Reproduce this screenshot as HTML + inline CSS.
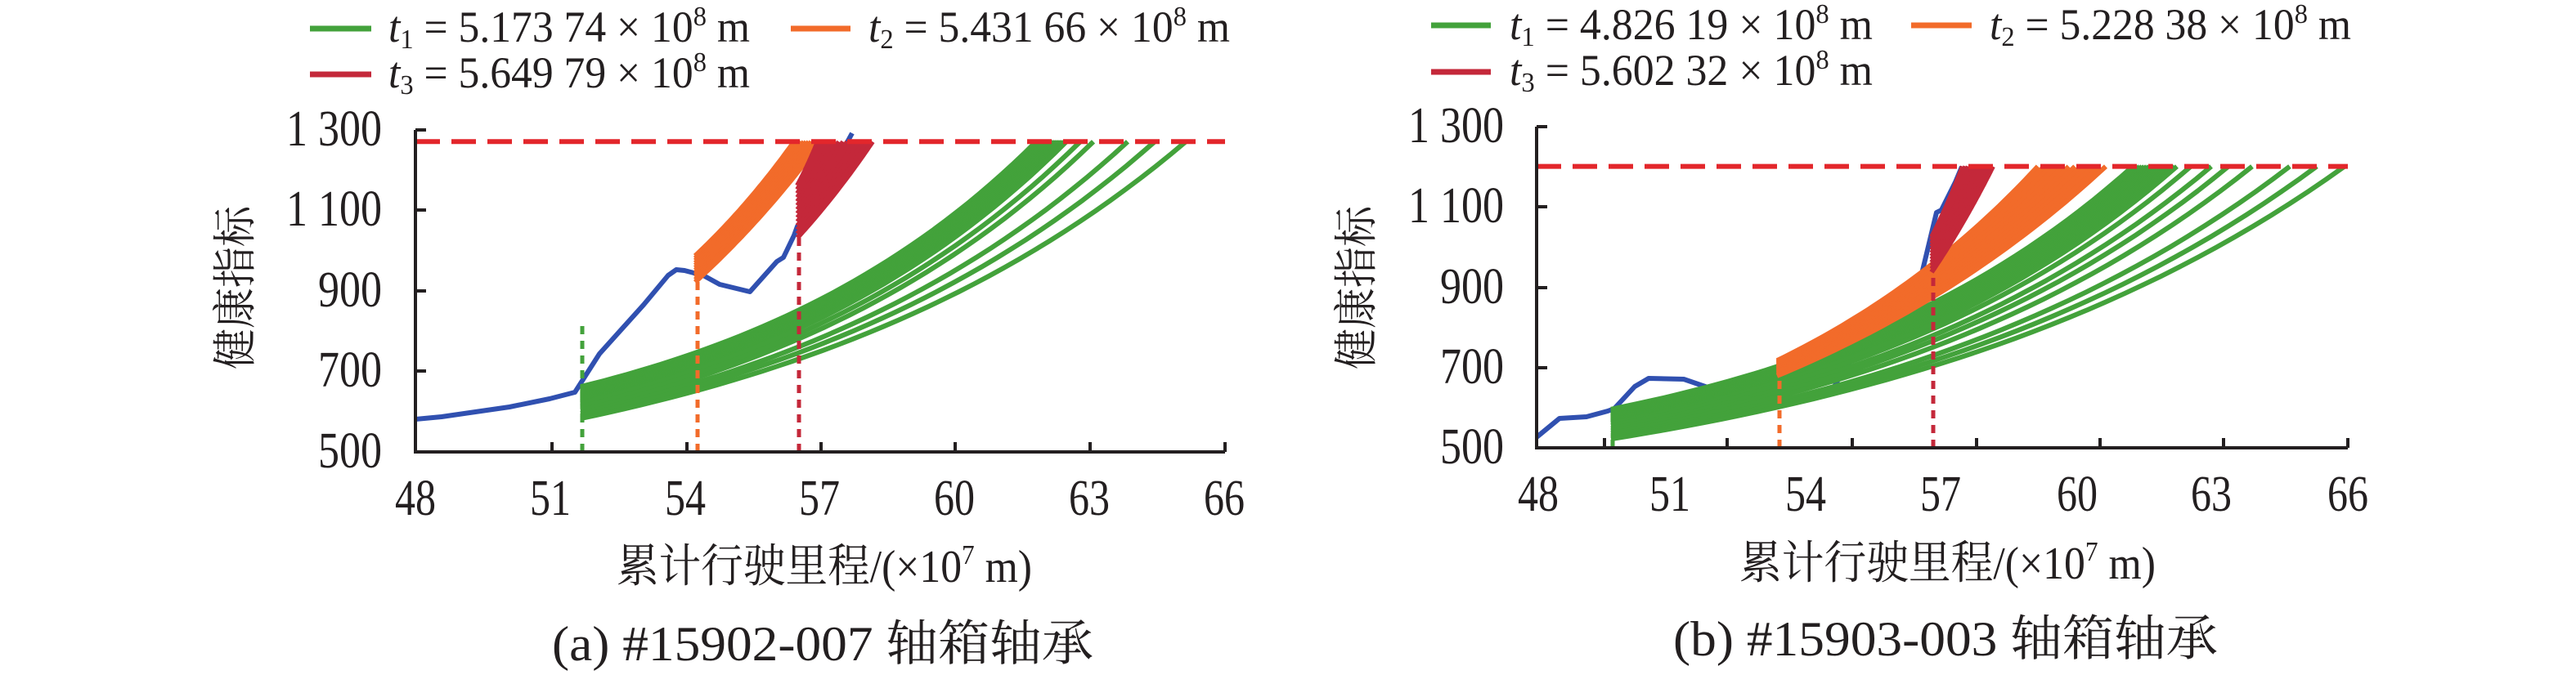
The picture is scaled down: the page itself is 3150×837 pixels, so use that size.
<!DOCTYPE html>
<html><head><meta charset="utf-8"><style>
html,body{margin:0;padding:0;background:#fff;}
svg{display:block;}
text{font-family:"Liberation Serif","Noto Serif CJK SC","Noto Sans CJK SC",serif;fill:#231f20;}
</style></head><body>
<svg id="s" width="3150" height="837" viewBox="0 0 3150 837" xmlns="http://www.w3.org/2000/svg">
<g id="g"></g>
<!-- legends (a) -->
<line x1="379" y1="35" x2="454" y2="35" stroke="#43a23b" stroke-width="7"/>
<text x="475" y="51" font-size="54" textLength="442" lengthAdjust="spacingAndGlyphs"><tspan font-style="italic">t</tspan><tspan font-size="34" dy="8">1</tspan><tspan dy="-8"> = 5.173 74 × 10</tspan><tspan font-size="34" dy="-20">8</tspan><tspan dy="20"> m</tspan></text>
<line x1="967" y1="35" x2="1040" y2="35" stroke="#f26b2a" stroke-width="7"/>
<text x="1062" y="51" font-size="54" textLength="442" lengthAdjust="spacingAndGlyphs"><tspan font-style="italic">t</tspan><tspan font-size="34" dy="8">2</tspan><tspan dy="-8"> = 5.431 66 × 10</tspan><tspan font-size="34" dy="-20">8</tspan><tspan dy="20"> m</tspan></text>
<line x1="379" y1="91" x2="454" y2="91" stroke="#c4283a" stroke-width="7"/>
<text x="475" y="107" font-size="54" textLength="442" lengthAdjust="spacingAndGlyphs"><tspan font-style="italic">t</tspan><tspan font-size="34" dy="8">3</tspan><tspan dy="-8"> = 5.649 79 × 10</tspan><tspan font-size="34" dy="-20">8</tspan><tspan dy="20"> m</tspan></text>
<!-- legends (b) -->
<line x1="1750" y1="31" x2="1823" y2="31" stroke="#43a23b" stroke-width="7"/>
<text x="1846" y="48" font-size="54" textLength="444" lengthAdjust="spacingAndGlyphs"><tspan font-style="italic">t</tspan><tspan font-size="34" dy="8">1</tspan><tspan dy="-8"> = 4.826 19 × 10</tspan><tspan font-size="34" dy="-20">8</tspan><tspan dy="20"> m</tspan></text>
<line x1="2337" y1="31" x2="2411" y2="31" stroke="#f26b2a" stroke-width="7"/>
<text x="2433" y="48" font-size="54" textLength="442" lengthAdjust="spacingAndGlyphs"><tspan font-style="italic">t</tspan><tspan font-size="34" dy="8">2</tspan><tspan dy="-8"> = 5.228 38 × 10</tspan><tspan font-size="34" dy="-20">8</tspan><tspan dy="20"> m</tspan></text>
<line x1="1750" y1="88" x2="1823" y2="88" stroke="#c4283a" stroke-width="7"/>
<text x="1846" y="104" font-size="54" textLength="444" lengthAdjust="spacingAndGlyphs"><tspan font-style="italic">t</tspan><tspan font-size="34" dy="8">3</tspan><tspan dy="-8"> = 5.602 32 × 10</tspan><tspan font-size="34" dy="-20">8</tspan><tspan dy="20"> m</tspan></text>
<!-- axis labels -->
<text x="754" y="712" font-size="56" textLength="508" lengthAdjust="spacingAndGlyphs">累计行驶里程/(×10<tspan font-size="34" dy="-22">7</tspan><tspan dy="22"> m)</tspan></text>
<text x="2127" y="708" font-size="56" textLength="509" lengthAdjust="spacingAndGlyphs">累计行驶里程/(×10<tspan font-size="34" dy="-22">7</tspan><tspan dy="22"> m)</tspan></text>
<text x="675" y="808" font-size="60" textLength="662" lengthAdjust="spacingAndGlyphs">(a) #15902-007 轴箱轴承</text>
<text x="2046" y="802" font-size="60" textLength="666" lengthAdjust="spacingAndGlyphs">(b) #15903-003 轴箱轴承</text>
<text transform="translate(306,452) rotate(-90)" font-size="54" textLength="200" lengthAdjust="spacingAndGlyphs">健康指标</text>
<text transform="translate(1677,452) rotate(-90)" font-size="54" textLength="200" lengthAdjust="spacingAndGlyphs">健康指标</text>
</svg>
<script>
var g=document.getElementById('g'),NS="http://www.w3.org/2000/svg";
function el(t,a,txt){var e=document.createElementNS(NS,t);for(var k in a)e.setAttribute(k,a[k]);if(txt!=null)e.textContent=txt;g.appendChild(e);return e;}
function poly(pts,c,w){var d=pts.map(function(p,i){return (i?'L':'M')+p[0].toFixed(1)+' '+p[1].toFixed(1)}).join(' ');return el('path',{d:d,fill:'none',stroke:c,'stroke-width':w,'stroke-linejoin':'round'});}
function chart(o){
 var Y=function(h){return o.y500-(h-500)*o.sy;};
 function curve(x0,h0,xe,h1,k,c,w){var p=[];for(var i=0;i<=40;i++){var t=i/40;var f=(Math.exp(k*t)-1)/(Math.exp(k)-1);p.push([x0+(xe-x0)*t,Y(h0+(h1-h0)*f)]);}poly(p,c,w);}
 poly(o.blue,'#3050b0',6);
 o.green.forEach(function(c){curve(o.gx,c[0],c[1],o.th,o.gk,'#43a23b',6);});
 o.orange.forEach(function(c){curve(o.ox,c[0],c[1],o.th,o.ok,'#f26b2a',6);});
 o.red.forEach(function(c){curve(o.rx,c[0],c[1],o.th,o.rk,'#c4283a',6);});
 o.vd.forEach(function(v){el('line',{x1:v[0],y1:o.y500,x2:v[0],y2:v[1],stroke:v[2],'stroke-width':5,'stroke-dasharray':'10 8'});});
 el('line',{x1:o.ax0,y1:Y(o.th),x2:o.ax1,y2:Y(o.th),stroke:'#e3262b','stroke-width':6,'stroke-dasharray':'30 14'});
 el('path',{d:'M'+o.ax0+' '+o.ytop+' L'+o.ax0+' '+o.y500+' L'+o.ax1+' '+o.y500,fill:'none',stroke:'#231f20','stroke-width':4});
 o.xt.forEach(function(x){el('line',{x1:x,y1:o.y500,x2:x,y2:o.y500-12,stroke:'#231f20','stroke-width':4});});
 o.yt.forEach(function(y){el('line',{x1:o.ax0,y1:y,x2:o.ax0+13,y2:y,stroke:'#231f20','stroke-width':4});});
 var yl=['1 300','1 100','900','700','500'],yw=[117,117,78,78,78];
 o.ytl.forEach(function(y,i){el('text',{x:o.ylr-yw[i],y:y+19,'font-size':62,textLength:yw[i],lengthAdjust:'spacingAndGlyphs'},yl[i]);});
 var xl=['48','51','54','57','60','63','66'];
 o.xtl.forEach(function(x,i){el('text',{x:x-25,y:o.xlb,'font-size':62,textLength:50,lengthAdjust:'spacingAndGlyphs'},xl[i]);});
}
function gen(n,h0a,h0b,ea,eb){var r=[];for(var i=0;i<n;i++){var t=i/(n-1);r.push([h0a+(h0b-h0a)*t,ea+(eb-ea)*t]);}return r;}
chart({y500:553,sy:0.4925,th:1271,ax0:508,ax1:1498,ytop:159,
 blue:[[508,513],[540,510],[623,498],[672,488],[703,480],[733,433],[787,373],[817,337],[827,330],[837,331],[860,337],[880,348],[917,357],[950,320],[958,315],[971,288],[975,277],[1000,240],[1042,163]],
 gx:710,gk:1.4,green:gen(20,662,620,1267,1304).concat([[612,1321],[603,1337],[596,1379],[590,1412],[583,1450]]),
 ox:850,ok:0.4,orange:gen(12,987,922,971,1004),
 rx:975,rk:0.3,red:gen(14,1162,1032,1000,1067),
 vd:[[712,395,'#43a23b'],[853,345,'#f26b2a'],[977,291,'#c4283a']],
 xt:[675,840,1004,1168,1333,1498],yt:[159,257,356,454],ytl:[159,257,356,454,553],ylr:467,
 xtl:[508,673,838,1002,1167,1332,1497],xlb:630});
chart({y500:548,sy:0.492,th:1200,ax0:1879,ax1:2871,ytop:155,
 blue:[[1879,535],[1907,512],[1940,510],[1966,503],[1974,500],[1999,473],[2016,463],[2059,464],[2091,475],[2150,492],[2206,488],[2238,482],[2256,450],[2300,400],[2350,335],[2368,260],[2374,257],[2391,223],[2399,204]],
 gx:1970,gk:1.5,green:gen(20,596,560,2608,2662).concat([[555,2679],[548,2704],[542,2725],[536,2754],[530,2800],[526,2833],[522,2867]]),
 ox:2173,ok:0.8,orange:gen(12,717,679,2492,2575),
 rx:2362,rk:0.3,red:gen(12,1024,937,2400,2437),
 vd:[[1972,537,'#43a23b'],[2176,460,'#f26b2a'],[2364,333,'#c4283a']],
 xt:[1962,2112,2265,2417,2568,2719,2871],yt:[155,253,352,450],ytl:[155,253,352,450,548],ylr:1839,
 xtl:[1881,2042,2208,2373,2540,2704,2871],xlb:625});
</script>
</body></html>
